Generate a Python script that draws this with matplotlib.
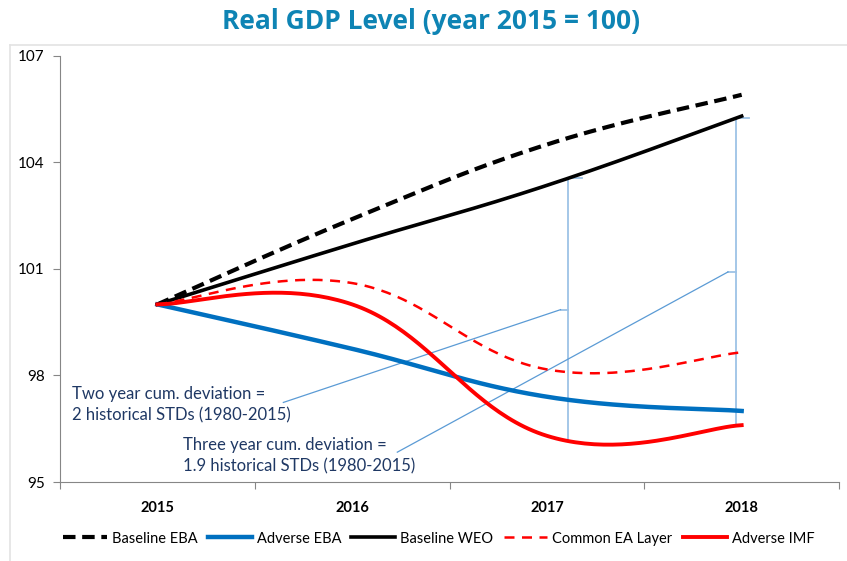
import numpy as np
import matplotlib
matplotlib.use('Agg')
import matplotlib.pyplot as plt
from matplotlib.lines import Line2D

years = ['2015', '2016', '2017', '2018']
baseline_eba = [100.0, 102.4, 104.5, 105.9]
adverse_eba = [100.0, 98.75, 97.4, 97.0]
baseline_weo = [100.0, 101.7, 103.35, 105.3]
common_ea = [100.0, 100.6, 98.17, 98.65]
adverse_imf = [100.0, 100.0, 96.3, 96.6]

note_two = 'Two year cum. deviation =\n2 historical STDs (1980-2015)'
note_three = 'Three year cum. deviation =\n1.9 historical STDs (1980-2015)'

plt.rcParams['font.family'] = ['Lato', 'DejaVu Sans']


def smooth(y, n=50, k=5.0):
    # excel style smoothed line (bezier through the points)
    y = np.asarray(y, dtype=float)
    x = np.arange(len(y), dtype=float)
    px = np.concatenate([[x[0]], x, [x[-1]]])
    py = np.concatenate([[y[0]], y, [y[-1]]])
    xs, ys = [], []
    t = np.linspace(0, 1, n)
    for i in range(len(y) - 1):
        p0 = np.array([px[i + 1], py[i + 1]])
        p3 = np.array([px[i + 2], py[i + 2]])
        p1 = p0 + (np.array([px[i + 2], py[i + 2]]) - np.array([px[i], py[i]])) / k
        p2 = p3 - (np.array([px[i + 3], py[i + 3]]) - np.array([px[i + 1], py[i + 1]])) / k
        bx = (1 - t)**3 * p0[0] + 3 * (1 - t)**2 * t * p1[0] + 3 * (1 - t) * t**2 * p2[0] + t**3 * p3[0]
        by = (1 - t)**3 * p0[1] + 3 * (1 - t)**2 * t * p1[1] + 3 * (1 - t) * t**2 * p2[1] + t**3 * p3[1]
        xs.extend(bx)
        ys.extend(by)
    return np.array(xs), np.array(ys)


fig = plt.figure(figsize=(8.47, 5.61), dpi=100)
ax = fig.add_axes([0.0708, 0.1408, 0.9198, 0.7599])

series = [
    (baseline_eba, 'black', (0, (3, 1.6)), 3.0, 'Baseline EBA'),
    (adverse_eba, '#0070C0', '-', 3.2, 'Adverse EBA'),
    (baseline_weo, 'black', '-', 2.6, 'Baseline WEO'),
    (common_ea, '#FF0000', (0, (4, 3)), 1.8, 'Common EA Layer'),
    (adverse_imf, '#FF0000', '-', 2.8, 'Adverse IMF'),
]
handles = []
for vals, col, ls, lw, lab in series:
    sx, sy = smooth(vals)
    ax.plot(sx, sy, color=col, linestyle=ls, linewidth=lw, zorder=3)
    handles.append(Line2D([], [], color=col, linestyle=ls, linewidth=lw, label=lab))

# deviation brackets between Baseline WEO and Adverse IMF
wx, wy = smooth(baseline_weo)
ix, iy = smooth(adverse_imf)
bar_col = '#9DC3E6'
for xb, lx, ly in [(2.11, 0.647, 97.24), (2.97, 1.232, 95.84)]:
    top = np.interp(xb, wx, wy)
    bot = np.interp(xb, ix, iy)
    mid = (top + bot) / 2
    ax.plot([xb, xb], [bot, top], color=bar_col, lw=1.3, zorder=2)
    ax.plot([xb, xb + 0.07], [top, top], color=bar_col, lw=1.3, zorder=2)
    ax.plot([xb - 0.04, xb], [mid, mid], color=bar_col, lw=1.3, zorder=2)
    ax.plot([lx, xb - 0.04], [ly, mid], color='#5B9BD5', lw=0.9, zorder=2)

ax.text(-0.44, 97.17, note_two, fontsize=12, color='#1F3864', va='center',
        linespacing=1.4)
ax.text(0.13, 95.74, note_three, fontsize=12, color='#1F3864', va='center',
        linespacing=1.4)

ax.set_xlim(-0.5, 3.5)
ax.set_ylim(95, 107)
ax.set_yticks([95, 98, 101, 104, 107])
ax.set_xticks(np.arange(-0.5, 3.6, 1.0))
ax.set_xticklabels([])
ax.set_xticks(range(4), minor=True)
ax.set_xticklabels(years, minor=True, fontweight='bold', fontsize=10.5)
ax.tick_params(axis='x', which='minor', length=0, pad=14)
ax.tick_params(axis='x', which='major', length=5, color='#868686')
ax.tick_params(axis='y', length=5, color='#868686', labelsize=11, pad=6)
for s in ['top', 'right']:
    ax.spines[s].set_visible(False)
for s in ['left', 'bottom']:
    ax.spines[s].set_color('#868686')

fig.text(0.509, 0.962, 'Real GDP Level (year 2015 = 100)', ha='center', va='center',
         fontsize=19, fontweight='bold', color='#0E84B4', family=['Open Sans', 'DejaVu Sans'])
fig.add_artist(Line2D([0.012, 1.0], [0.92, 0.92], color='#E3E3E3', lw=1.2))
fig.add_artist(Line2D([0.012, 0.012], [0.0, 0.92], color='#E3E3E3', lw=1.2))

fig.legend(handles=handles, loc='center', bbox_to_anchor=(0.518, 0.04), ncol=5,
           frameon=False, fontsize=10.5, handlelength=3.0, handletextpad=0.35,
           columnspacing=0.7)

fig.savefig('out.png', dpi=100)
